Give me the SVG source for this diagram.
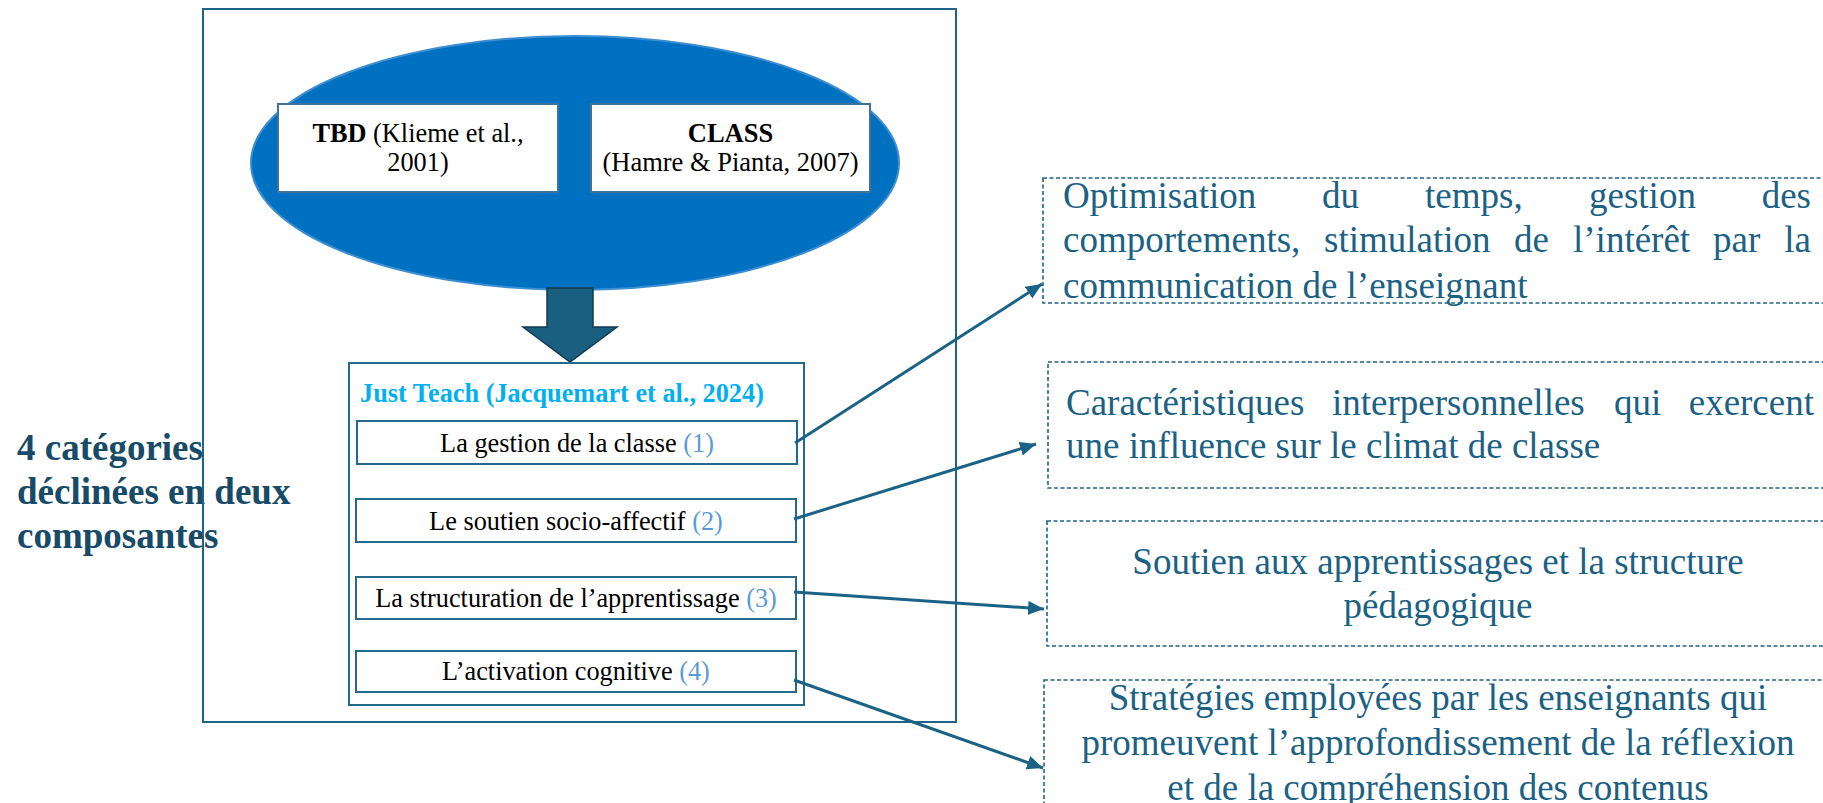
<svg xmlns="http://www.w3.org/2000/svg" width="1823" height="803" viewBox="0 0 1823 803">
<style>
.serif{font-family:"Liberation Serif","Times New Roman",serif}
.item{font-size:26.3px;fill:#000;text-anchor:middle}
.num{fill:#5B9BD5}
.ibox{fill:#fff;stroke:#25698D;stroke-width:2}
.dbox{fill:none;stroke:#1F6388;stroke-width:1.6;stroke-dasharray:4 2.5}
.rt{font-size:37px;fill:#1B6184}
.conn{stroke:#1B6386;stroke-width:3;fill:none}
</style>
<defs>
<marker id="ah" markerUnits="userSpaceOnUse" markerWidth="17" markerHeight="15" refX="16" refY="7" orient="auto">
<path d="M0,0 L16,7 L0,14 z" fill="#1B6386"/>
</marker>
</defs>

<g id="left-label" class="serif" font-weight="bold" font-size="37" fill="#174B67">
<text x="17" y="460">4 catégories</text>
<text x="17" y="504">déclinées en deux</text>
<text x="17" y="548">composantes</text>
</g>

<g id="outer-frame">
<rect x="203" y="9" width="753" height="713" fill="none" stroke="#1F6388" stroke-width="2"/>
</g>

<g id="frameworks">
<ellipse cx="575" cy="163" rx="324" ry="127" fill="#0070C0" stroke="#3C8ED2" stroke-width="2"/>
<g id="tbd">
<rect x="278" y="104" width="280" height="88" fill="#fff" stroke="#41719C" stroke-width="2"/>
<text class="serif" font-size="26.3" text-anchor="middle"><tspan x="418" y="142"><tspan font-weight="bold">TBD</tspan> (Klieme et al.,</tspan><tspan x="418" y="171">2001)</tspan></text>
</g>
<g id="class">
<rect x="591" y="104" width="279" height="88" fill="#fff" stroke="#41719C" stroke-width="2"/>
<text class="serif" font-size="26.5" text-anchor="middle"><tspan x="730.5" y="142" font-weight="bold">CLASS</tspan><tspan x="730.5" y="171">(Hamre &amp; Pianta, 2007)</tspan></text>
</g>
</g>

<g id="block-arrow">
<path d="M547,288 L593,288 L593,327 L617,327 L570,362 L523,327 L547,327 Z" fill="#1A5E80" stroke="#0F3B52" stroke-width="1.5" stroke-linejoin="miter"/>
</g>

<g id="just-teach">
<rect x="349" y="363" width="455" height="342" fill="none" stroke="#25698D" stroke-width="2"/>
<text class="serif" x="360" y="402" font-size="26.3" font-weight="bold" fill="#00B0F0">Just Teach (Jacquemart et al., 2024)</text>
<g id="item1">
<rect class="ibox" x="357" y="421" width="440" height="43"/>
<text class="serif item" x="577" y="452">La gestion de la classe <tspan class="num">(1)</tspan></text>
</g>
<g id="item2">
<rect class="ibox" x="356" y="499" width="440" height="43"/>
<text class="serif item" x="576" y="530">Le soutien socio-affectif <tspan class="num">(2)</tspan></text>
</g>
<g id="item3">
<rect class="ibox" x="356" y="577" width="440" height="42"/>
<text class="serif item" x="576" y="607">La structuration de l’apprentissage <tspan class="num">(3)</tspan></text>
</g>
<g id="item4">
<rect class="ibox" x="356" y="651" width="440" height="41"/>
<text class="serif item" x="576" y="680">L’activation cognitive <tspan class="num">(4)</tspan></text>
</g>
</g>

<g id="desc1">
<rect class="dbox" x="1043" y="178" width="800" height="125"/>
<text class="serif rt">
<tspan x="1063" y="208">Optimisation</tspan><tspan x="1322" y="208">du</tspan><tspan x="1425" y="208">temps,</tspan><tspan x="1589" y="208">gestion</tspan>
</text>
<text class="serif rt" x="1811" y="208" text-anchor="end">des</text>
<text class="serif rt">
<tspan x="1063" y="252">comportements,</tspan><tspan x="1324" y="252">stimulation</tspan><tspan x="1514" y="252">de</tspan><tspan x="1573" y="252">l’intérêt</tspan><tspan x="1713" y="252">par</tspan>
</text>
<text class="serif rt" x="1811" y="252" text-anchor="end">la</text>
<text class="serif rt" x="1063" y="298">communication de l’enseignant</text>
</g>

<g id="desc2">
<rect class="dbox" x="1048" y="362" width="800" height="126"/>
<text class="serif rt">
<tspan x="1066" y="415">Caractéristiques</tspan><tspan x="1332" y="415">interpersonnelles</tspan><tspan x="1614" y="415">qui</tspan>
</text>
<text class="serif rt" x="1814" y="415" text-anchor="end">exercent</text>
<text class="serif rt" x="1066" y="458">une influence sur le climat de classe</text>
</g>

<g id="desc3">
<rect class="dbox" x="1047" y="521" width="800" height="125"/>
<text class="serif rt" text-anchor="middle"><tspan x="1438" y="574">Soutien aux apprentissages et la structure</tspan><tspan x="1438" y="618">pédagogique</tspan></text>
</g>

<g id="desc4">
<rect class="dbox" x="1044" y="680" width="800" height="150"/>
<text class="serif rt" text-anchor="middle"><tspan x="1438" y="710">Stratégies employées par les enseignants qui</tspan><tspan x="1438" y="755">promeuvent l’approfondissement de la réflexion</tspan><tspan x="1438" y="800">et de la compréhension des contenus</tspan></text>
</g>

<g id="connectors">
<line class="conn" x1="795" y1="443" x2="1042" y2="284" marker-end="url(#ah)"/>
<line class="conn" x1="794" y1="519" x2="1036" y2="444" marker-end="url(#ah)"/>
<line class="conn" x1="794" y1="592" x2="1044" y2="609" marker-end="url(#ah)"/>
<line class="conn" x1="794" y1="680" x2="1043" y2="768" marker-end="url(#ah)"/>
</g>
</svg>
